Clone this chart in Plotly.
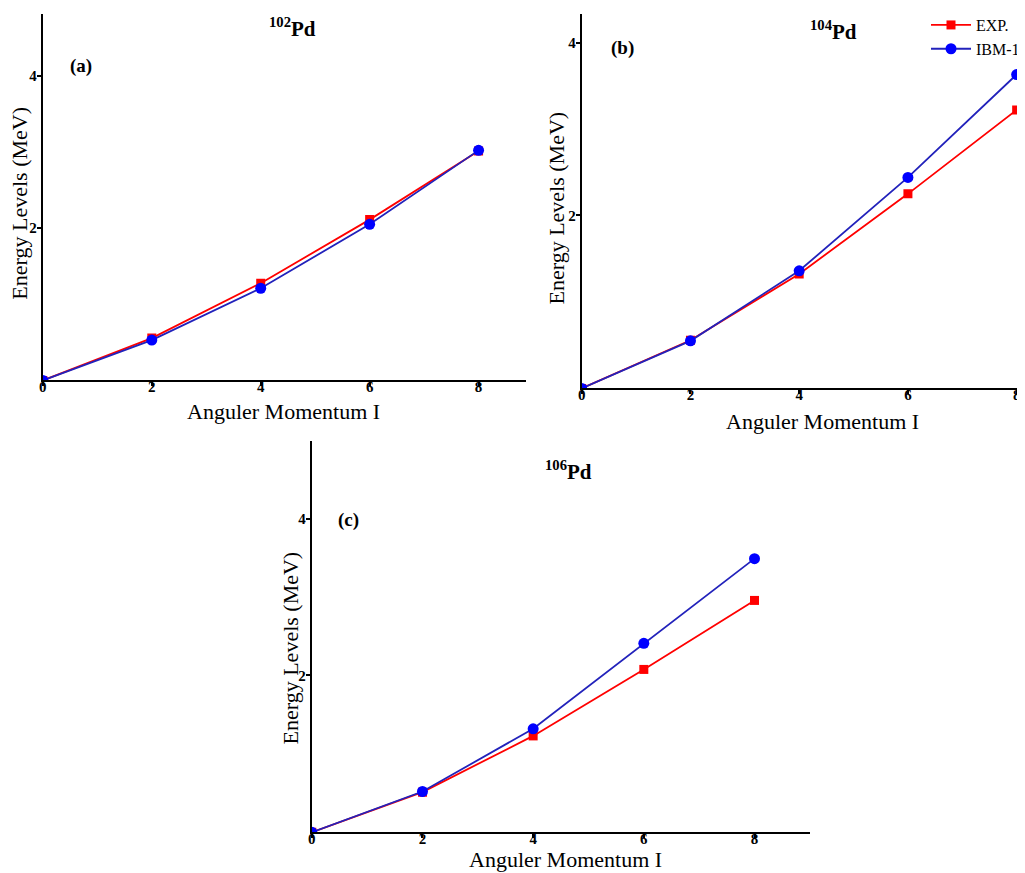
import plotly.graph_objects as go

# ---- data ----
spins = [0, 2, 4, 6, 8]
exp_102 = [0, 0.556, 1.276, 2.111, 3.013]
ibm_102 = [0, 0.53, 1.21, 2.05, 3.02]
exp_104 = [0, 0.556, 1.324, 2.250, 3.22]
ibm_104 = [0, 0.55, 1.36, 2.44, 3.63]
exp_106 = [0, 0.512, 1.229, 2.077, 2.957]
ibm_106 = [0, 0.52, 1.32, 2.41, 3.49]
x_ticks = [0, 2, 4, 6, 8]
y_ticks = [2, 4]
panels = [
    ("a", "102", exp_102, ibm_102),
    ("b", "104", exp_104, ibm_104),
    ("c", "106", exp_106, ibm_106),
]

# page has an 8px body margin; figure sized so it ends at the window edge
OFF = 8
W, H = 1025 - OFF, 873 - OFF
RED = "#FF0000"
BLUE_LINE = "#2222BB"
BLUE_MARK = "#0000FF"
SERIF = "Liberation Serif, Times New Roman, serif"


def px(x):
    return (x - OFF) / W


def py(y):
    return 1 - (y - OFF) / H


# reference pixel boxes (left, right, top, bottom) and axis maxima
boxes = {
    "a": (43, 528, 8, 377, 8.87, 4.81),
    "b": (584, 1025, 8, 385, 8.08, 4.33),
    "c": (313, 813, 438, 832, 9.0, 4.99),
}

fig = go.Figure()
for i, (key, mass, exp, ibm) in enumerate(panels):
    sfx = "" if i == 0 else str(i + 1)
    l, r, t, b, xmax, ymax = boxes[key]
    fig.add_trace(go.Scatter(
        x=spins, y=exp, mode="lines+markers", name="EXP.",
        line=dict(color=RED, width=1.8),
        marker=dict(symbol="square", size=9, color=RED),
        xaxis="x" + sfx, yaxis="y" + sfx, showlegend=(key == "b"),
    ))
    fig.add_trace(go.Scatter(
        x=spins, y=ibm, mode="lines+markers", name="IBM-1",
        line=dict(color=BLUE_LINE, width=1.8),
        marker=dict(symbol="circle", size=11, color=BLUE_MARK),
        xaxis="x" + sfx, yaxis="y" + sfx, showlegend=(key == "b"),
    ))
    axis_common = dict(
        showgrid=False, zeroline=False, showline=True, linecolor="black",
        linewidth=2, ticks="outside", ticklen=4, tickwidth=1.5, tickcolor="black",
        tickfont=dict(family=SERIF, size=15, color="black", weight="bold"),
        automargin=False,
    )
    fig.layout["xaxis" + sfx] = dict(
        axis_common,
        domain=[px(l), min(px(r), 1.0)], range=[0, xmax], tickvals=x_ticks,
        anchor="y" + sfx, ticklabelstandoff=-12,
    )
    fig.layout["yaxis" + sfx] = dict(
        axis_common,
        domain=[py(b), py(t)], range=[0, ymax], tickvals=y_ticks,
        anchor="x" + sfx, ticklabelstandoff=-3,
    )

# axis titles, panel titles and panel labels (reference pixel centres)
xtitle_pos = {"a": (285, 408), "b": (826, 418), "c": (568, 859)}
ytitle_pos = {"a": (20, 198), "b": (559, 203), "c": (292, 646)}
title_pos = {"a": (294, 22), "b": (837, 25), "c": (571, 468)}
label_pos = {"a": (81, 60), "b": (625, 42), "c": (350, 518)}
for key, mass, _, _ in panels:
    x0, y0 = xtitle_pos[key]
    fig.add_annotation(
        x=px(x0), y=py(y0), xref="paper", yref="paper", showarrow=False,
        xanchor="center", yanchor="middle", text="Anguler Momentum I",
        font=dict(family=SERIF, size=22, color="black"),
    )
    x0, y0 = ytitle_pos[key]
    fig.add_annotation(
        x=px(x0), y=py(y0), xref="paper", yref="paper", showarrow=False,
        xanchor="center", yanchor="middle", textangle=-90,
        text="Energy Levels (MeV)",
        font=dict(family=SERIF, size=22, color="black"),
    )
    tx, ty = title_pos[key]
    fig.add_annotation(
        x=px(tx), y=py(ty), xref="paper", yref="paper", showarrow=False,
        xanchor="center", yanchor="middle",
        text=f"<b><sup>{mass}</sup>Pd</b>",
        font=dict(family=SERIF, size=21, color="black"),
    )
    lx, ly = label_pos[key]
    fig.add_annotation(
        x=px(lx), y=py(ly), xref="paper", yref="paper", showarrow=False,
        xanchor="center", yanchor="middle",
        text=f"<b>({key})</b>",
        font=dict(family=SERIF, size=19, color="black"),
    )

fig.update_layout(
    width=W, height=H,
    margin=dict(l=0, r=0, t=0, b=0),
    paper_bgcolor="white", plot_bgcolor="white",
    legend=dict(
        x=px(930), y=1 + 6 / H, xanchor="left", yanchor="top",
        font=dict(family=SERIF, size=16, color="black"),
        bgcolor="rgba(0,0,0,0)", tracegroupgap=0, itemwidth=40,
    ),
)

fig.write_html("out.html")
